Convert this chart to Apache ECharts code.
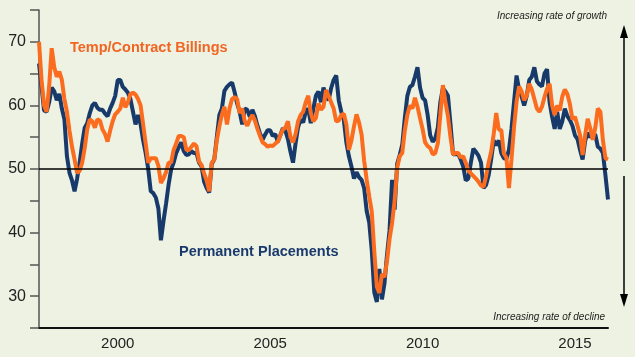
<!DOCTYPE html>
<html><head><meta charset="utf-8">
<script src="https://cdn.jsdelivr.net/npm/echarts@6/dist/echarts.min.js"></script>
<style>html,body{margin:0;padding:0;background:#edf2e2}#c{width:635px;height:357px}</style>
</head><body><div id="c"></div>
<script>
const startYear = 1997, startMonth = 6;
const permanent = [
66.6,63,59.2,59,60.5,62.8,62.2,60.8,61.8,59.5,
57.8,52,49.4,48.2,46.5,48.5,51,54,56.5,57.2,
58.8,60,60.4,59.6,59.3,59.3,58.7,58.3,59.5,60.4,
61.5,64,64,62.9,62.5,62,61,59,57,58.5,
57,54.5,52.5,50,46.5,46.2,45.5,43.8,38.8,41.8,
44.5,47.5,49.9,51,52.5,53.4,54.2,52.8,52.2,52.3,
52.8,52.5,52.5,51,50.4,48,47,46.3,50.8,51.5,
55,58.5,59.5,62.3,62.9,63.3,63.6,62.1,60.3,59,
57,59.5,59.3,58.2,59.3,58.3,56.8,55.6,54.6,55.4,
56.1,56.1,55.2,55.5,54.3,55.3,56.4,56,54.7,52.7,
51,54,56.6,57.8,57.3,59,59.5,57.2,59.5,61.5,
62.2,60.5,62.8,61.5,60.8,62.7,64,64.7,60.8,59,
57.7,54.2,52,50.4,48.5,49.5,48.7,48.3,47,43.4,
41.6,37.2,30.6,29.1,34.3,29.5,32,36.5,40.3,48.3,
43.6,50.8,52.2,53.8,58,61.5,62.9,63.2,64.5,66,
62.8,61.2,60.8,58.5,55.3,54.3,54.8,56.5,60.5,62.7,
62.2,61.5,57,52.3,52.3,52.4,51.5,50.4,48.2,48.5,
51,53.2,52.7,52.1,51,47,47.5,49,51.5,54.5,
53.7,54.5,52.5,51.7,51.6,53,56.3,60.5,64.7,62.5,
61.4,60,61.5,64,64.5,66,63.8,63.3,63,65,
65.7,60.5,58.2,56.3,59,56.3,57.5,59.5,58.3,57.7,
56.8,55.3,54.7,53,51.5,54.4,55.7,55,55.5,55.4,
53.5,53.2,52.5,49,45.2
];
const temp = [
70,64,60,59,63,69,66,64.5,65.3,64,
61,59,56,53.5,51.5,49.4,49.7,51,53.3,56.3,
57.8,57.5,56.5,57.8,57.6,56.2,55.5,54.3,56,57.5,
58.6,59,59.5,61.2,59.7,60.5,61.8,62,61.7,61,
60,57,54,51,51.7,51.7,51.7,50.5,47.8,48.5,
49.5,51,51,53,54,55.2,55.2,55,53,53,
53.5,54,53.6,51.2,50.6,49.3,48.2,46.5,51,51.5,
54.5,56.7,58.5,59.8,57,59.5,61,61.3,61,58.8,
59.5,57.5,56.8,57.8,58.5,57.6,56.3,55.2,54.2,53.9,
53.5,53.7,53.6,54,54.3,55.3,56.2,56.5,57.5,55,
54.2,55.5,57.5,58.5,59,60.5,61.5,58.8,57.5,58,
60.3,59.3,59.8,62.4,61.5,60.5,59.5,57.5,57.6,58.5,
58.7,57,53,54.5,56.7,58.6,57.3,55.4,51.3,48.3,
45.7,43.3,37,31.5,30.5,33.5,33,35.5,39,41.5,
45,50.2,52,52.5,56,58.5,60,59.5,61.2,59.8,
58,56.3,54.2,53.6,53.3,52.3,52.5,54,58.5,63.2,
60.5,58.3,55,52.3,52.5,52.5,51.8,52,51,49.8,
49.3,48.9,48.5,48,47.4,47.2,48.9,51,52.7,55.5,
58.8,56.2,56.1,52.4,51.8,47,51.5,56.5,60.6,63,
62.2,60.8,61.5,63.4,62.5,61,59.5,59,59.8,61.3,
62.6,63.4,60,58.5,60,59.2,61.4,62.5,61.8,60.2,
57.8,58.2,56.8,55.3,52.2,55.3,57.9,56.4,54.6,56.5,
59.5,59,54.5,51.7,51.5
];
const xTickYears = [2000, 2005, 2010, 2015];
const yTickLabels = [30, 40, 50, 60, 70];
const categories = permanent.map((_, i) => {
  const t = startYear * 12 + (startMonth - 1) + i;
  return Math.floor(t / 12) + '-' + String(t % 12 + 1).padStart(2, '0');
});
const FF = '"Liberation Sans", Arial, sans-serif';
const chart = echarts.init(document.getElementById('c'));
chart.setOption({
  animation: false,
  backgroundColor: '#edf2e2',
  grid: { left: 39, right: 27, top: 10, bottom: 29 },
  xAxis: {
    type: 'category', data: categories, boundaryGap: false,
    axisLine: { lineStyle: { color: '#111', width: 2 } },
    axisTick: { show: false },
    splitLine: { show: false },
    axisLabel: {
      interval: (i, v) => v.endsWith('-01') && xTickYears.includes(+v.slice(0, 4)),
      formatter: v => v.slice(0, 4),
      fontSize: 15, color: '#222', margin: 8, fontFamily: FF
    }
  },
  yAxis: {
    type: 'value', min: 25, max: 75, interval: 5,
    axisLine: { show: true, lineStyle: { color: '#555', width: 1.5 } },
    axisTick: { show: true, inside: false, length: 9, lineStyle: { color: '#555', width: 1.5 } },
    splitLine: { show: false },
    axisLabel: {
      formatter: v => yTickLabels.includes(v) ? String(v) : '',
      fontSize: 16, color: '#222', margin: 13, fontFamily: FF
    }
  },
  series: [
    { name: 'Permanent Placements', type: 'line', data: permanent, showSymbol: false,
      lineStyle: { color: '#173a6a', width: 4 }, z: 2 },
    { name: 'Temp/Contract Billings', type: 'line', data: temp, showSymbol: false,
      lineStyle: { color: '#fb6c1f', width: 4 }, z: 3 },
    { type: 'line', data: [], z: 5,
      markLine: { silent: true, symbol: 'none', label: { show: false },
        lineStyle: { color: '#000', width: 1.5, type: 'solid' },
        data: [{ yAxis: 50 }] } }
  ],
  graphic: [
    { type: 'text', left: 70, top: 40, style: { text: 'Temp/Contract Billings', fill: '#f26522', font: 'bold 14.5px ' + FF } },
    { type: 'text', left: 179, top: 244, style: { text: 'Permanent Placements', fill: '#1a3a6e', font: 'bold 14.5px ' + FF } },
    { type: 'text', right: 28, top: 11, style: { text: 'Increasing rate of growth', fill: '#222', font: 'italic 10px ' + FF } },
    { type: 'text', right: 30, top: 312, style: { text: 'Increasing rate of decline', fill: '#222', font: 'italic 10px ' + FF } },
    { type: 'line', shape: { x1: 624, y1: 36, x2: 624, y2: 161 }, style: { stroke: '#000', lineWidth: 1.5 } },
    { type: 'line', shape: { x1: 624, y1: 176, x2: 624, y2: 296 }, style: { stroke: '#000', lineWidth: 1.5 } },
    { type: 'polygon', shape: { points: [[620, 38], [628, 38], [624, 25]] }, style: { fill: '#000' } },
    { type: 'polygon', shape: { points: [[620, 294], [628, 294], [624, 307]] }, style: { fill: '#000' } }
  ]
});
</script></body></html>
